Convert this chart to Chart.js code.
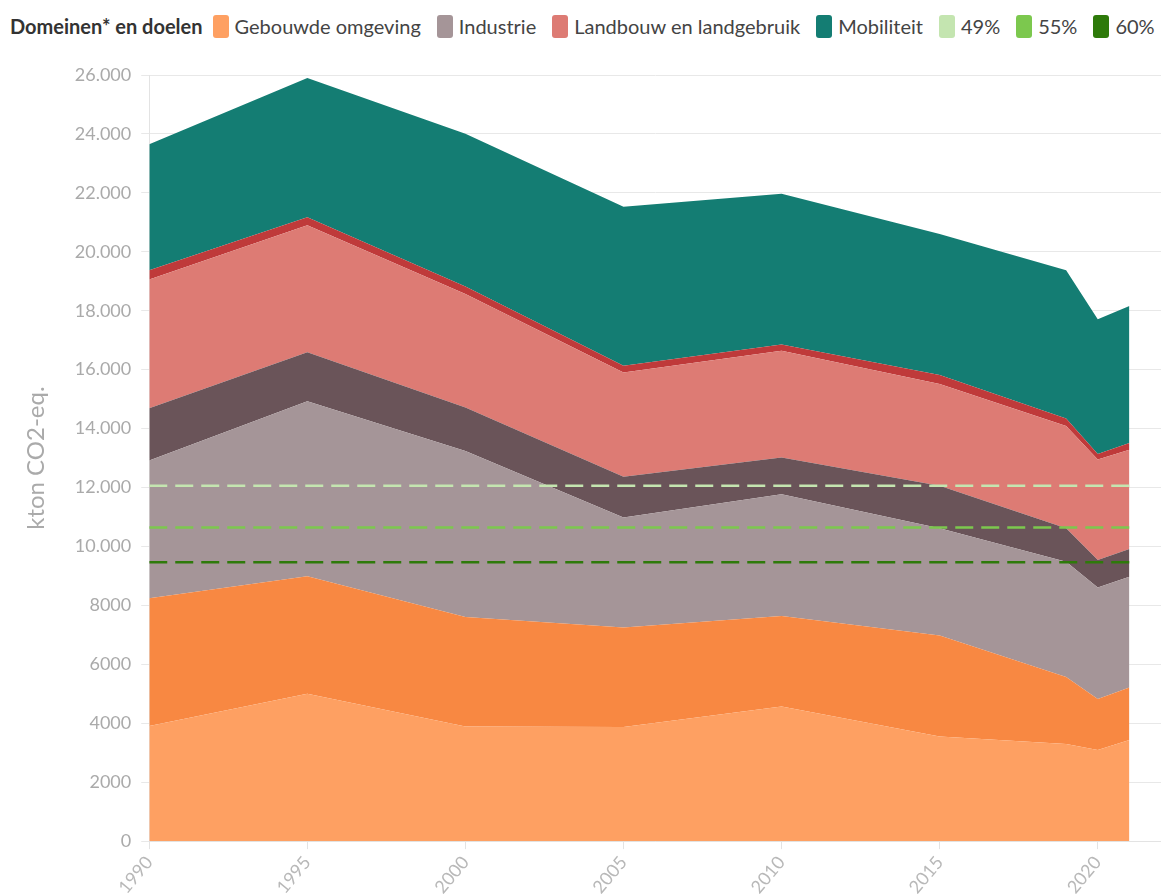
<!DOCTYPE html>
<html lang="nl">
<head>
<meta charset="utf-8">
<title>Domeinen en doelen</title>
<script src="https://cdn.jsdelivr.net/npm/chart.js@4.4.1/dist/chart.umd.min.js"></script>
<style>
  html, body { margin: 0; padding: 0; background: #fff; }
  body { width: 1161px; height: 896px; position: relative; overflow: hidden; font-family: Lato, sans-serif; }
  #legend { position: absolute; left: 10px; top: 14px; display: flex; align-items: center; font-size: 20px; color: #444; white-space: nowrap; }
  #legend .title { font-weight: bold; color: #333; margin-right: 10px; }
  #legend .item { display: flex; align-items: center; margin-right: 16px; }
  #legend .swatch { width: 16px; height: 23px; border-radius: 3px; margin-right: 6px; }
  #chart { position: absolute; left: 0; top: 0; }
</style>
</head>
<body>
<div id="legend"></div>
<canvas id="chart" width="1161" height="901"></canvas>
<script>
// jaren op de x-as
const years = [1990, 1995, 2000, 2005, 2010, 2015, 2019, 2020, 2021];

// kton CO2-eq. per (deel)domein, gestapeld van onder naar boven
const gebouwd1 = [3910, 5000, 3890, 3870, 4570, 3550, 3300, 3090, 3430];
const gebouwd2 = [4330, 3990, 3720, 3380, 3070, 3430, 2270, 1730, 1780];
const industrie1 = [4680, 5940, 5630, 3730, 4130, 3640, 3910, 3790, 3760];
const industrie2 = [1770, 1660, 1480, 1390, 1250, 1440, 1140, 930, 940];
const landbouw1 = [4370, 4310, 3850, 3530, 3620, 3450, 3470, 3410, 3370];
const landbouw2 = [310, 270, 250, 230, 210, 310, 250, 190, 230];
const mobiliteit = [4280, 4730, 5190, 5400, 5120, 4780, 5030, 4570, 4650];

// reductiedoelen (horizontale lijnen)
const targetLabels = ["49%", "55%", "60%"];
const targetValues = [12060, 10640, 9460];
const targetYears = [1990, 2021];

const yTicks = [0, 2000, 4000, 6000, 8000, 10000, 12000, 14000, 16000, 18000, 20000, 22000, 24000, 26000];

function toPoints(values) {
  return values.map((v, i) => ({ x: years[i], y: v }));
}

function area(label, values, color, inLegend) {
  return {
    label: label,
    data: toPoints(values),
    backgroundColor: color,
    borderColor: color,
    borderWidth: 0,
    pointRadius: 0,
    stack: "domeinen",
    order: 1,
    inLegend: inLegend,
  };
}

const areas = [
  area("Gebouwde omgeving", gebouwd1, "#fea062", true),
  area("Gebouwde omgeving", gebouwd2, "#f88842", false),
  area("Industrie", industrie1, "#a59598", true),
  area("Industrie", industrie2, "#6a5459", false),
  area("Landbouw en landgebruik", landbouw1, "#dd7b74", true),
  area("Landbouw en landgebruik", landbouw2, "#bf3a3a", false),
  area("Mobiliteit", mobiliteit, "#147d73", true),
];
areas.forEach((ds, i) => (ds.fill = i === 0 ? "origin" : "-1"));

const targetColors = ["#c4e5b0", "#7cc84e", "#2e7a0a"];
const targets = targetLabels.map((label, i) => ({
  label: label,
  data: targetYears.map((x) => ({ x: x, y: targetValues[i] })),
  borderColor: targetColors[i],
  backgroundColor: targetColors[i],
  borderWidth: 2.5,
  borderDash: [18, 8],
  pointRadius: 0,
  fill: false,
  stack: "doel" + i,
  order: 0,
  inLegend: true,
}));

function formatY(v) {
  if (v >= 10000) return String(v).replace(/(\d)(\d{3})$/, "$1.$2");
  return String(v);
}

const chart = new Chart(document.getElementById("chart").getContext("2d"), {
  type: "line",
  data: { datasets: [...areas, ...targets] },
  options: {
    responsive: false,
    animation: false,
    layout: { padding: { top: 75, right: 0, left: 22, bottom: 0 } },
    plugins: { legend: { display: false }, tooltip: { enabled: false } },
    elements: { line: { tension: 0 } },
    scales: {
      x: {
        type: "linear",
        min: 1990,
        max: 2022,
        grid: { drawOnChartArea: false, color: "#e3e3e3", tickLength: 8 },
        border: { color: "#e3e3e3" },
        ticks: {
          stepSize: 5,
          minRotation: 50,
          maxRotation: 50,
          color: "#b8b8b8",
          font: { family: "Lato", size: 18 },
          callback: (v) => String(v),
        },
        afterBuildTicks: (axis) => {
          axis.ticks = axis.ticks.filter((t) => t.value % 5 === 0);
        },
      },
      y: {
        stacked: true,
        min: 0,
        max: 26000,
        afterBuildTicks: (axis) => {
          axis.ticks = yTicks.map((v) => ({ value: v }));
        },
        grid: { color: "#e8e8e8", tickLength: 8 },
        border: { color: "#e3e3e3" },
        ticks: {
          color: "#aaaaaa",
          font: { family: "Lato", size: 18 },
          padding: 10,
          callback: formatY,
        },
        title: {
          display: true,
          text: "kton CO2-eq.",
          color: "#aaaaaa",
          font: { family: "Lato", size: 24 },
          padding: { top: 0, bottom: 14 },
        },
      },
    },
  },
});

// legenda in html, zoals in het origineel op één regel met de titel
const legend = document.getElementById("legend");
const title = document.createElement("span");
title.className = "title";
title.textContent = "Domeinen* en doelen";
legend.appendChild(title);
chart.data.datasets
  .filter((ds) => ds.inLegend)
  .forEach((ds) => {
    const item = document.createElement("span");
    item.className = "item";
    const sw = document.createElement("span");
    sw.className = "swatch";
    sw.style.background = ds.backgroundColor;
    item.appendChild(sw);
    item.appendChild(document.createTextNode(ds.label));
    legend.appendChild(item);
  });
</script>
</body>
</html>
